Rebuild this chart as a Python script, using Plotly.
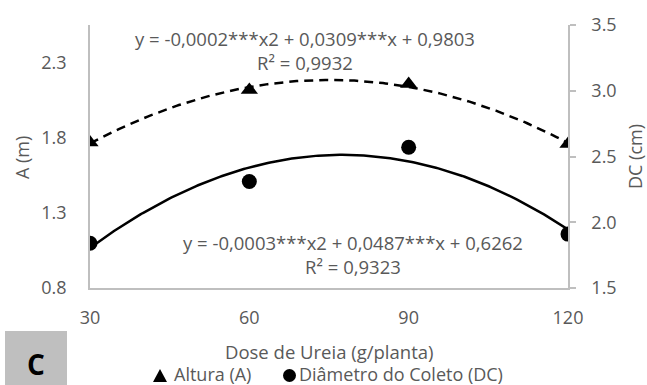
import numpy as np
import plotly.graph_objects as go

doses = [30, 60, 90, 120]
altura = [1.77, 2.12, 2.16, 1.76]
diametro = [1.84, 2.31, 2.57, 1.91]
x_ticks = [30, 60, 90, 120]
eq_altura = "y = -0,0002***x2 + 0,0309***x + 0,9803<br>R² = 0,9932"
eq_dc = "y = -0,0003***x2 + 0,0487***x + 0,6262<br>R² = 0,9323"

FONT = "Open Sans"
GRAY = "#595959"
AX = "#bfbfbf"
FS = 18

xs = np.linspace(30, 120, 200)
pa = np.polyfit(doses, altura, 2)
pd_ = np.polyfit(doses, diametro, 2)

fig = go.Figure()
fig.add_trace(go.Scatter(x=xs, y=np.polyval(pa, xs), mode="lines",
                         line=dict(color="black", width=2.5, dash="9px,6px"),
                         showlegend=False, hoverinfo="skip"))
fig.add_trace(go.Scatter(x=doses, y=altura, mode="markers",
                         marker=dict(symbol="triangle-up", size=15, color="black"),
                         showlegend=False))
fig.add_trace(go.Scatter(x=xs, y=np.polyval(pd_, xs), mode="lines", yaxis="y2",
                         line=dict(color="black", width=2.5),
                         showlegend=False, hoverinfo="skip"))
fig.add_trace(go.Scatter(x=doses, y=diametro, mode="markers", yaxis="y2",
                         marker=dict(symbol="circle", size=15, color="black"),
                         showlegend=False))

fig.update_layout(
    width=647, height=385,
    margin=dict(l=90, r=79, t=25, b=97),
    paper_bgcolor="white", plot_bgcolor="white",
    font=dict(family=FONT, size=FS, color=GRAY),
    xaxis=dict(range=[30, 120], tickvals=x_ticks, showline=True, linecolor=AX,
               linewidth=1.5, showgrid=False, zeroline=False, ticks="",
               ticklabelstandoff=13, tickfont=dict(size=FS, color=GRAY)),
    yaxis=dict(range=[0.8, 2.553], tickvals=[0.8, 1.3, 1.8, 2.3], tickformat=".1f",
               showline=True, linecolor=AX, linewidth=1.5, showgrid=False,
               zeroline=False, ticks="", ticklabelstandoff=18,
               tickfont=dict(size=FS, color=GRAY)),
    yaxis2=dict(range=[1.5, 3.5], tickvals=[1.5, 2.0, 2.5, 3.0, 3.5], tickformat=".1f",
                overlaying="y", side="right", showline=True, linecolor=AX,
                linewidth=1.5, showgrid=False, zeroline=False, ticks="outside",
                ticklen=6, tickcolor=AX, tickwidth=1.5, ticklabelstandoff=12,
                tickfont=dict(size=FS, color=GRAY)),
    showlegend=False,
)


def px(xp, yp):
    return (xp - 90) / (568 - 90), (288 - yp) / (288 - 25)


def label(xp, yp, text, anchor="center", angle=0, size=FS, color=GRAY):
    xx, yy = px(xp, yp)
    fig.add_annotation(x=xx, y=yy, xref="paper", yref="paper", text=text,
                       textangle=angle, showarrow=False, xanchor=anchor,
                       yanchor="middle", borderpad=0,
                       font=dict(family=FONT, size=size, color=color))


label(305, 51, eq_altura, size=18.5)
label(353, 254, eq_dc, size=18.5)
label(329, 351, "Dose de Ureia (g/planta)", size=18.5)
label(22, 158, "A (m)", angle=-90)
label(635, 157, "DC (cm)", angle=-90)
label(173, 374, "Altura (A)", anchor="left", size=18)
label(298, 374, "Diâmetro do Coleto (DC)", anchor="left", size=18)

# legend symbols
ax0, ay0 = px(153, 382)
ax1, ay1 = px(167, 382)
ax2, ay2 = px(160, 369)
fig.add_shape(type="path", xref="paper", yref="paper",
              path=f"M {ax0} {ay0} L {ax1} {ay1} L {ax2} {ay2} Z",
              fillcolor="black", line=dict(width=0))
cx0, cy0 = px(283, 382)
cx1, cy1 = px(296, 369)
fig.add_shape(type="circle", xref="paper", yref="paper", x0=cx0, y0=cy0, x1=cx1, y1=cy1,
              fillcolor="black", line=dict(width=0))

# "C" box
x0, y0 = px(5, 331)
x1, y1 = px(67, 385)
fig.add_shape(type="rect", xref="paper", yref="paper", x0=x0, y0=y1, x1=x1, y1=y0,
              fillcolor="#bfbfbf", line=dict(width=0), layer="below")
label(36, 364, "<b>C</b>", size=28, color="black")

fig.write_html("out.html", config={"displayModeBar": False},
               post_script="document.body.style.margin='0';")
